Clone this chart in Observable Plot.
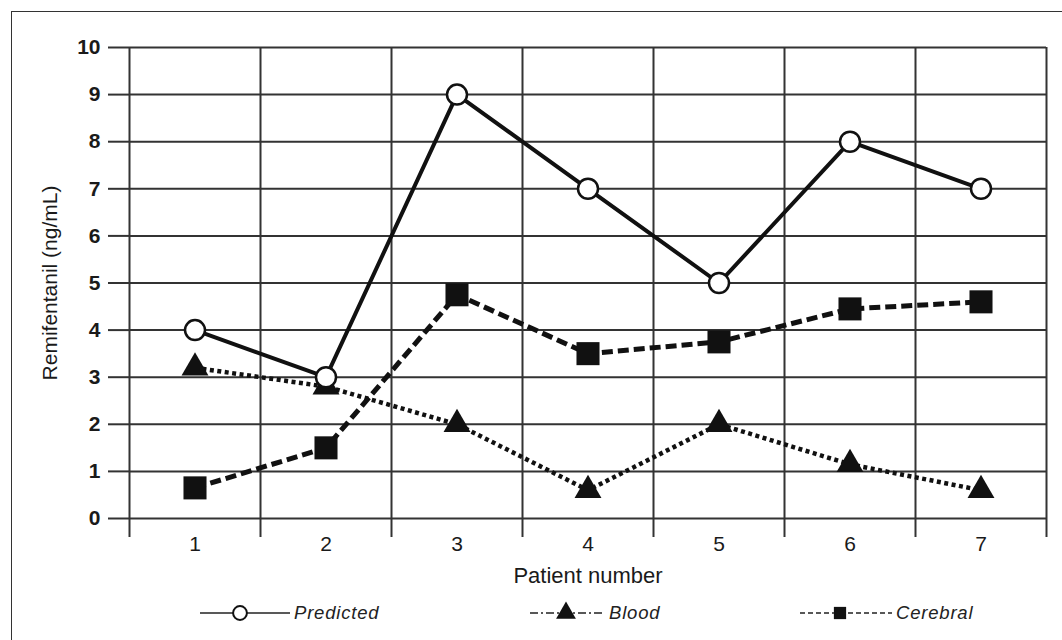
<!DOCTYPE html>
<html>
<head>
<meta charset="utf-8">
<script src="https://cdn.jsdelivr.net/npm/d3@7"></script>
<script src="https://cdn.jsdelivr.net/npm/@observablehq/plot@0.6"></script>
<style>
  html, body { margin: 0; padding: 0; background: #fff; }
  body { width: 1062px; height: 640px; overflow: hidden; position: relative; font-family: "Liberation Sans", Arial, sans-serif; }
  #frame { position: absolute; left: 11px; top: 11px; width: 1100px; height: 700px; border: 1.5px solid #333; box-sizing: border-box; pointer-events: none; }
  #chart { position: absolute; left: 0; top: 0; }
  #legend { position: absolute; left: 0; top: 596px; width: 1062px; height: 34px; }
  .item { position: absolute; top: 0; height: 34px; display: flex; align-items: center; }
  .item span { font-style: italic; font-size: 18.5px; color: #222; letter-spacing: 0.8px; margin-left: 4px; }
</style>
</head>
<body>
<div id="chart"></div>
<div id="legend"></div>
<div id="frame"></div>
<script>
// ---- data ----
const patients = [1, 2, 3, 4, 5, 6, 7];
const predicted = [4, 3, 9, 7, 5, 8, 7];
const blood = [3.2, 2.8, 2.0, 0.6, 2.0, 1.15, 0.6];
const cerebral = [0.65, 1.5, 4.75, 3.5, 3.75, 4.45, 4.6];
const yTicks = [0, 1, 2, 3, 4, 5, 6, 7, 8, 9, 10];
const bandEdges = [0.5, 1.5, 2.5, 3.5, 4.5, 5.5, 6.5, 7.5];
const seriesNames = ["Predicted", "Blood", "Cerebral"];

const seriesValues = { Predicted: predicted, Blood: blood, Cerebral: cerebral };
const rows = seriesNames.flatMap(s => patients.map((p, i) => ({ series: s, patient: p, value: seriesValues[s][i] })));
const bySeries = s => rows.filter(d => d.series === s);

const FONT = "Liberation Sans, Arial, sans-serif";
const INK = "#1a1a1a";

const chart = Plot.plot({
  width: 1062,
  height: 596,
  marginLeft: 129,
  marginRight: 16,
  marginTop: 47,
  marginBottom: 78,
  style: { fontFamily: FONT, color: INK, background: "transparent", overflow: "visible" },
  x: { domain: [0.5, 7.5] },
  y: { domain: [0, 10] },
  marks: [
    Plot.ruleY(yTicks, { stroke: "#333", strokeWidth: 2 }),
    Plot.ruleX(bandEdges, { stroke: "#333", strokeWidth: 2 }),
    Plot.axisY({ ticks: yTicks, tickSize: 21, tickPadding: 8, fontSize: 21, fontWeight: "bold", label: null, strokeWidth: 2, stroke: "#333" }),
    Plot.axisX({ ticks: bandEdges, tickSize: 19, tickFormat: () => "", label: null, strokeWidth: 2, stroke: "#333" }),
    Plot.axisX({ ticks: patients, tickSize: 0, tickPadding: 18, fontSize: 21, label: null, tickFormat: d => String(d) }),
    Plot.text(["Remifentanil (ng/mL)"], { frameAnchor: "left", dx: -79, rotate: -90, fontSize: 21, fill: INK, textAnchor: "middle", lineAnchor: "middle" }),
    Plot.text(["Patient number"], { frameAnchor: "bottom", dy: 57, fontSize: 22, fill: INK, textAnchor: "middle", lineAnchor: "middle" }),
    Plot.line(bySeries("Cerebral"), { x: "patient", y: "value", stroke: "#111", strokeWidth: 5, strokeDasharray: "11,5", strokeLinecap: "butt" }),
    Plot.line(bySeries("Blood"), { x: "patient", y: "value", stroke: "#111", strokeWidth: 4.5, strokeDasharray: "4,3.5", strokeLinecap: "butt" }),
    Plot.line(bySeries("Predicted"), { x: "patient", y: "value", stroke: "#111", strokeWidth: 4 }),
    Plot.dot(bySeries("Cerebral"), { x: "patient", y: "value", symbol: "square", r: 13, fill: "#111", stroke: "none" }),
    Plot.dot(bySeries("Blood"), { x: "patient", y: "value", symbol: "triangle", r: 10, fill: "#111", stroke: "none" }),
    Plot.dot(bySeries("Predicted"), { x: "patient", y: "value", symbol: "circle", r: 10, fill: "#fff", stroke: "#111", strokeWidth: 2.5 })
  ]
});
document.getElementById("chart").appendChild(chart);

// ---- legend ----
const legendItems = [
  { name: "Predicted", left: 200, w: 90, dash: null, symbol: "circle", markerX: 40 },
  { name: "Blood", left: 530, w: 75, dash: "8,3,2,3", symbol: "triangle", markerX: 36 },
  { name: "Cerebral", left: 800, w: 92, dash: "5,3", symbol: "square", markerX: 40 }
];
const legend = document.getElementById("legend");
for (const it of legendItems) {
  const div = document.createElement("div");
  div.className = "item";
  div.style.left = it.left + "px";
  const svg = d3.create("svg").attr("width", it.w).attr("height", 34);
  svg.append("line").attr("x1", 0).attr("x2", it.w).attr("y1", 17).attr("y2", 17)
    .attr("stroke", "#222").attr("stroke-width", 1.6).attr("stroke-dasharray", it.dash);
  const sym = it.symbol === "circle" ? d3.symbolCircle : it.symbol === "triangle" ? d3.symbolTriangle : d3.symbolSquare;
  const size = it.symbol === "circle" ? 150 : it.symbol === "triangle" ? 170 : 150;
  svg.append("path").attr("d", d3.symbol(sym, size)())
    .attr("transform", `translate(${it.markerX},17)`)
    .attr("fill", it.symbol === "circle" ? "#fff" : "#111")
    .attr("stroke", it.symbol === "circle" ? "#111" : "none")
    .attr("stroke-width", 2);
  div.appendChild(svg.node());
  const span = document.createElement("span");
  span.textContent = it.name;
  div.appendChild(span);
  legend.appendChild(div);
}
</script>
</body>
</html>
